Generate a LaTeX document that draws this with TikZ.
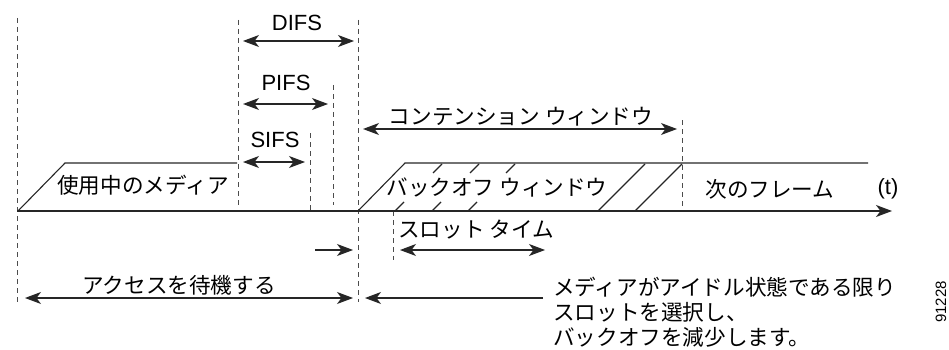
\documentclass[tikz,border=0pt]{standalone}
\usepackage{fontspec}
\setmainfont{Liberation Sans}
\newfontfamily\jpfont{Noto Sans CJK JP}
\usetikzlibrary{arrows.meta}
\begin{document}
\begin{tikzpicture}[x=1pt,y=-1pt,
  guide/.style={draw=black!70, line width=0.8pt, dash pattern=on 5pt off 4pt},
  solidline/.style={draw=black!85, line width=1.1pt},
  arr/.style={draw=black!85, line width=1.1pt, >={Stealth[length=16pt,width=12pt,inset=4.5pt]}},
  lat/.style={inner sep=0pt, font=\fontsize{22}{26}\selectfont},
  jpt/.style={inner sep=0pt, font=\jpfont\fontsize{21.6}{25}\selectfont}]
\useasboundingbox (0,0) rectangle (949,350);
% time marks
\coordinate (g1t) at (17,18);   \coordinate (g1b) at (17,302);
\coordinate (g2t) at (238,20);  \coordinate (g2b) at (238,205);
\coordinate (g3t) at (310,133); \coordinate (g3b) at (310,211);
\coordinate (g4t) at (333,85);  \coordinate (g4b) at (333,205);
\coordinate (g5t) at (358,20);  \coordinate (g5b) at (358,302);
\coordinate (g6t) at (682,120); \coordinate (g6b) at (682,211);
\coordinate (g7t) at (393,211); \coordinate (g7b) at (393,260);
\draw[guide] (g1t) -- (g1b);
\draw[guide] (g2t) -- (g2b);
\draw[guide] (g3t) -- (g3b);
\draw[guide] (g4t) -- (g4b);
\draw[guide] (g5t) -- (g5b);
\draw[guide] (g6t) -- (g6b);
\draw[guide] (g7t) -- (g7b);
% time axis
\coordinate (t0) at (17,211); \coordinate (t1) at (892,211);
\draw[arr,->, line width=1.4pt] (t0) -- (t1);
% frames
\draw[solidline] (18,211) -- (65,163) -- (237,163);
\draw[solidline] (358,211) -- (405,163) -- (868,163);
\foreach \b in {395,432,468}{
  \draw[solidline] (\b,211) -- ++(9,-9);
  \draw[solidline] (\b+38,173) -- ++(9,-9);
}
\draw[solidline] (598,211) -- (645,164);
\draw[solidline] (635,211) -- (682,164);
% labels
\node[lat] (difs) at (297,23) {DIFS};
\node[lat] (pifs) at (286,83) {PIFS};
\node[lat] (sifs) at (275,140) {SIFS};
\node[jpt] (media) at (143,185) {使用中のメディア};
\node[jpt] (cw) at (521,117) {コンテンション ウィンドウ};
\node[jpt] (bw) at (497,187) {バックオフ ウィンドウ};
\node[jpt] (next) at (770,189) {次のフレーム};
\node[lat] (tl) at (888,189) {(t)};
\node[jpt] (slot) at (476,230) {スロット タイム};
\node[jpt] (wait) at (179,285) {アクセスを待機する};
\node[jpt, align=left, anchor=north west] (idle) at (553,277) {メディアがアイドル状態である限り\\スロットを選択し、\\バックオフを減少します。};
\node[rotate=90, inner sep=0pt, font=\fontsize{15}{15}\selectfont] (fig) at (941,302) {91228};
% arrows
\draw[arr,<->] (243,41) -- (354,41);
\draw[arr,<->] (243,104) -- (328,104);
\draw[arr,<->] (243,162) -- (305,162);
\draw[arr,<->] (363,129) -- (677,129);
\draw[arr,->] (315,250) -- (353,250);
\draw[arr,<->] (25,298) -- (353,298);
\draw[arr,->] (543,298) -- (365,298);
\draw[arr,<->] (400,250) -- (545,250);
\end{tikzpicture}
\end{document}
